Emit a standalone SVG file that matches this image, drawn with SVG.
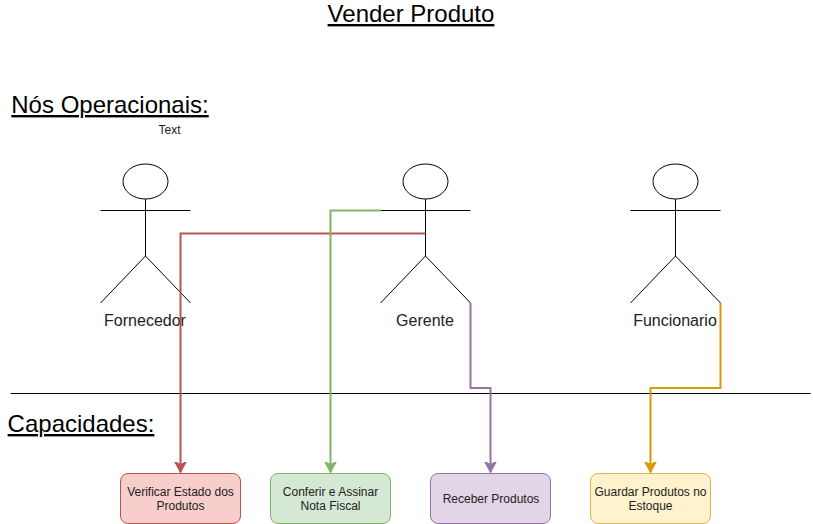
<svg xmlns="http://www.w3.org/2000/svg" width="813" height="524" viewBox="0 0 813 524">
<style>
text{font-family:"Liberation Sans",Arial,sans-serif;fill:#222;text-anchor:middle}
.h{font-size:24px;text-decoration:underline;fill:#000}
.a{font-size:16px}
.b{font-size:12px}
.s{fill:none;stroke:#000;stroke-width:1}
.c{fill:none;stroke-width:2}
</style>
<defs>
<marker id="r" markerUnits="userSpaceOnUse" markerWidth="14" markerHeight="14" refX="11" refY="6" orient="auto"><path d="M0 0L11 6L0 12L3 6Z" fill="#b85450" stroke="#b85450"/></marker>
<marker id="g" markerUnits="userSpaceOnUse" markerWidth="14" markerHeight="14" refX="11" refY="6" orient="auto"><path d="M0 0L11 6L0 12L3 6Z" fill="#82b366" stroke="#82b366"/></marker>
<marker id="p" markerUnits="userSpaceOnUse" markerWidth="14" markerHeight="14" refX="11" refY="6" orient="auto"><path d="M0 0L11 6L0 12L3 6Z" fill="#9673a6" stroke="#9673a6"/></marker>
<marker id="y" markerUnits="userSpaceOnUse" markerWidth="14" markerHeight="14" refX="11" refY="6" orient="auto"><path d="M0 0L11 6L0 12L3 6Z" fill="#d79b00" stroke="#d79b00"/></marker>
<g id="actor"><ellipse class="s" cx="45.500" cy="17.500" rx="22.500" ry="17.500"/><path class="s" d="M45.500 35V92M0.500 46.500H90.500M45.500 92L0.500 139M45.500 92L90.500 139"/></g>
</defs>
<text class="h" x="411" y="22">Vender Produto</text>
<text class="h" x="110" y="113">Nós Operacionais:</text>
<text class="h" x="81" y="432">Capacidades:</text>
<text class="b" x="169.500" y="134">Text</text>
<g id="fornecedor"><use href="#actor" x="100" y="164"/><text class="a" x="145" y="326">Fornecedor</text></g>
<g id="gerente"><use href="#actor" x="380" y="164"/><text class="a" x="425" y="326">Gerente</text></g>
<g id="funcionario"><use href="#actor" x="630" y="164"/><text class="a" x="675" y="326">Funcionario</text></g>
<path id="divider" d="M10.500 393.500H810.500" fill="none" stroke="#000"/>
<g id="n1"><rect x="120.500" y="473.500" width="120" height="50" rx="7.500" fill="#f8cecc" stroke="#b85450"/><text class="b" x="180.500" y="496">Verificar Estado dos</text><text class="b" x="180.500" y="510">Produtos</text></g>
<g id="n2"><rect x="270.500" y="473.500" width="120" height="50" rx="7.500" fill="#d5e8d4" stroke="#82b366"/><text class="b" x="330.500" y="496">Conferir e Assinar</text><text class="b" x="330.500" y="510">Nota Fiscal</text></g>
<g id="n3"><rect x="430.500" y="473.500" width="120" height="50" rx="7.500" fill="#e1d5e7" stroke="#9673a6"/><text class="b" x="491" y="503">Receber Produtos</text></g>
<g id="n4"><rect x="590.500" y="473.500" width="120" height="50" rx="7.500" fill="#fff2cc" stroke="#d6b656"/><text class="b" x="650.500" y="496">Guardar Produtos no</text><text class="b" x="650.500" y="510">Estoque</text></g>
<g id="connectors">
<path class="c" stroke="#b85450" marker-end="url(#r)" d="M425.500 233.500H180.500V472.500"/>
<path class="c" stroke="#82b366" marker-end="url(#g)" d="M380.500 210.500H330.500V472.500"/>
<path class="c" stroke="#9673a6" marker-end="url(#p)" d="M470.500 303V388H490.500V472.500"/>
<path class="c" stroke="#d79b00" marker-end="url(#y)" d="M720.500 303V388H650.500V472.500"/>
</g>
</svg>
